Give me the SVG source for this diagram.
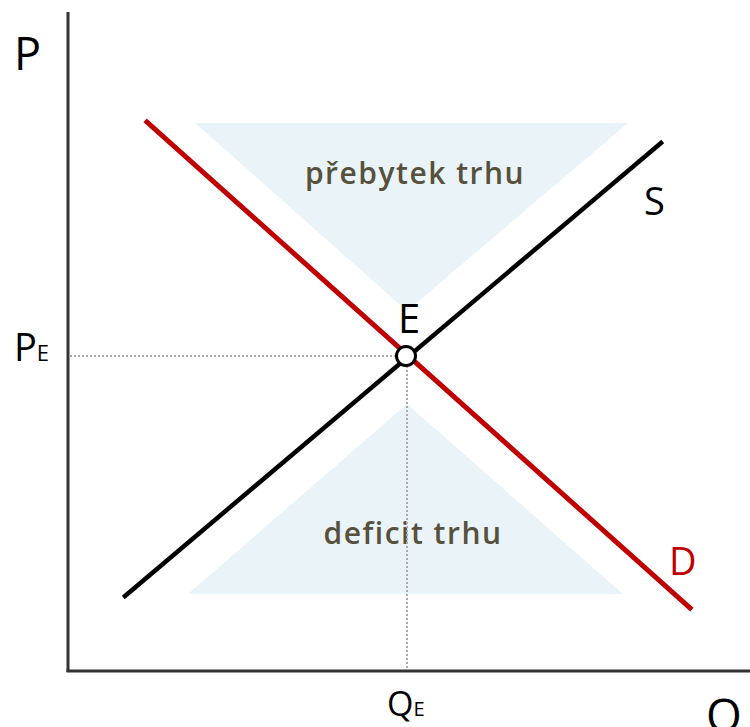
<svg xmlns="http://www.w3.org/2000/svg" width="750" height="727" viewBox="0 0 750 727">
<style>
.lbl{font-family:"Open Sans","Noto Sans",sans-serif;fill:#000}
.area{fill:#EAF4F8}
.atxt{font-family:"Open Sans","Noto Sans",sans-serif;font-weight:600;fill:#56513c;text-anchor:middle;font-size:30px;letter-spacing:1.5px}
.guide{stroke:#aaaaaa;stroke-width:2;stroke-dasharray:2 2;fill:none}
.axis{stroke:#333;stroke-width:3;fill:none}
</style>
<rect width="750" height="727" fill="#fff"/>
<g id="surplus">
<polygon class="area" points="195,123 628,123 407,311"/>
<text class="atxt" x="415" y="184">přebytek trhu</text>
</g>
<g id="deficit">
<polygon class="area" points="188,594 623,594 407,404"/>
<text class="atxt" x="413" y="544">deficit trhu</text>
</g>
<g id="connectors">
<line class="guide" x1="70" y1="356" x2="400" y2="356"/>
<line class="guide" x1="407" y1="366" x2="407" y2="670"/>
<line class="axis" x1="68" y1="12" x2="68" y2="672"/>
<line class="axis" x1="66.5" y1="671" x2="750" y2="671"/>
<line x1="147" y1="122" x2="690" y2="608" stroke="#C00000" stroke-width="5" stroke-linecap="square"/>
<line x1="125" y1="596" x2="661" y2="143" stroke="#000" stroke-width="4.5" stroke-linecap="square"/>
</g>
<g id="E">
<circle cx="406" cy="356" r="9.5" fill="#fff" stroke="#000" stroke-width="3"/>
<text class="lbl" x="398" y="333" font-size="40">E</text>
</g>
<g id="labels">
<text class="lbl" x="14" y="70" font-size="45">P</text>
<text class="lbl" x="14" y="361" font-size="38">P<tspan font-size="22">E</tspan></text>
<text class="lbl" x="387" y="716" font-size="34">Q<tspan font-size="20">E</tspan></text>
<text class="lbl" x="706" y="732" font-size="46">Q</text>
<text class="lbl" x="644" y="215" font-size="38">S</text>
<text class="lbl" x="669" y="575" font-size="38" fill="#C00000" style="fill:#C00000">D</text>
</g>
</svg>
